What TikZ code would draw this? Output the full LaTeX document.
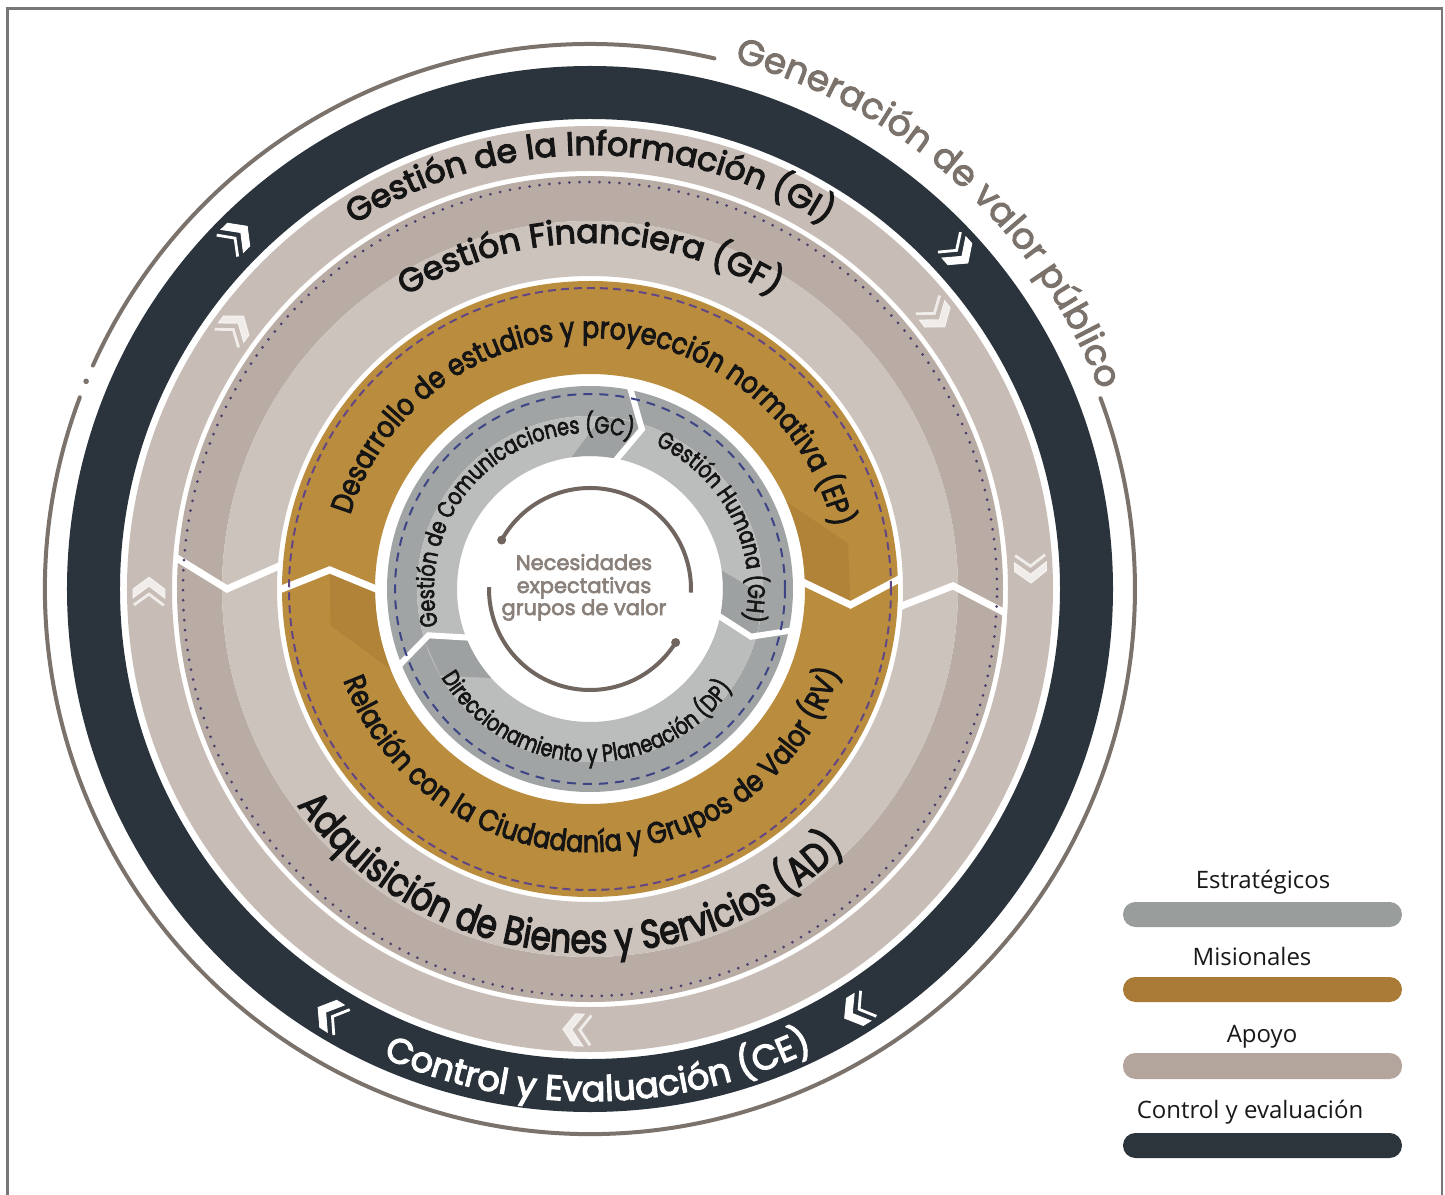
\documentclass[tikz,border=0pt]{standalone}
\usepackage{fontspec}
\setmainfont{Open Sans}
\newfontfamily\ringwide{Poppins}[FakeBold=3.4]
\newfontfamily\ringgen{Poppins}[FakeBold=2.6]
\newfontfamily\ringmid{Poppins}[FakeBold=3,FakeStretch=0.85]
\newfontfamily\ringad{Poppins}[FakeBold=3.2,FakeStretch=0.82]
\newfontfamily\ringsmall{Poppins}[FakeBold=2.6,FakeStretch=0.8]
\newfontfamily\centrefont{Poppins}[FakeBold=3]
\usetikzlibrary{decorations.text}

\definecolor{ceDark}{HTML}{2B343C}
\definecolor{giTaupe}{HTML}{C8BDB6}
\definecolor{gfDark}{HTML}{B8ACA4}
\definecolor{gfLight}{HTML}{CDC3BD}
\definecolor{goldBand}{HTML}{BA8C3D}
\definecolor{goldShade}{HTML}{B08339}
\definecolor{greyDark}{HTML}{A1A4A4}
\definecolor{greyLight}{HTML}{BBBCBC}
\definecolor{greyShade}{HTML}{9EA1A1}
\definecolor{outline}{HTML}{7B726C}
\definecolor{dotPurple}{HTML}{4E3C6C}
\definecolor{dashPurple}{HTML}{634785}
\definecolor{dashNavy}{HTML}{3D4486}
\definecolor{centreText}{HTML}{8A807A}
\definecolor{centreLine}{HTML}{70665F}
\definecolor{ink}{HTML}{151515}
\definecolor{legGrey}{HTML}{999D9B}
\definecolor{legGold}{HTML}{A97B36}
\definecolor{legTaupe}{HTML}{B4A59C}
\definecolor{legDark}{HTML}{2C343C}
\definecolor{frameGrey}{HTML}{777777}

% fonts for the curved labels
\newcommand\fGen{\ringgen\fontsize{18pt}{20pt}\selectfont\color{outline}}
\newcommand\fBig{\ringwide\fontsize{16.5pt}{18pt}\selectfont\color{ink}}
\newcommand\fCE{\ringwide\fontsize{17.5pt}{19pt}\selectfont\color{white}}
\newcommand\fAD{\ringad\fontsize{20pt}{22pt}\selectfont\color{ink}}
\newcommand\fMis{\ringmid\fontsize{15pt}{17pt}\selectfont\color{ink}}
\newcommand\fEst{\ringsmall\fontsize{12pt}{14pt}\selectfont\color{ink}}
\newcommand\fLegend{\fontsize{12pt}{14pt}\selectfont}

% text set along an arc: format, start angle, end angle, radius, text
\newcommand\arclabel[5]{%
  \path[decorate, decoration={text along path, text align=center, text={|#1|#5}}]
    (#2:#4) arc[start angle=#2, end angle=#3, radius=#4];}

% double chevron pointing clockwise: angle, radius, style
\newcommand\chev[3]{%
  \begin{scope}[shift={(#1:#2)}, rotate=#1-90]
    \fill[#3] (8,0) -- (-4,16) -- (-13,16) -- (-1,0) -- (-13,-16) -- (-4,-16) -- cycle;
    \draw[#3, line width=1.4pt, line join=miter, fill=none] (-20,15) -- (-9,0) -- (-20,-15);
  \end{scope}}

\tikzset{
  split/.style={white, line width=3.5pt, line join=miter},
  splitthin/.style={white, line width=3pt, line join=miter},
  chevDark/.style={fill=white, draw=white},
  chevLight/.style={fill=white, draw=white, opacity=0.72},
  outerline/.style={outline, line width=2pt, line cap=round},
  centreArc/.style={centreLine, line width=2pt},
  legendbar/.style={rounded corners=6.2pt},
  legendlabel/.style={anchor=base, font=\fLegend, text=black!90},
}

\begin{document}
\begin{tikzpicture}[x=0.5pt, y=0.5pt]
\useasboundingbox (-590,589) rectangle (855,-605);
\fill[white] (-590,589) rectangle (855,-605);

% frame
\draw[frameGrey, line width=1.3pt] (-582.5,580.5) rectangle (852,-625);

% outer thin line with the gap for the title
\draw[outerline] (76.8:545) arc[start angle=76.8, end angle=155.8, radius=545];
\fill[outline] (157.6:545) circle[radius=2.8];
\draw[outerline] (159.4:545) arc[start angle=159.4, end angle=380.5, radius=545];

% rings
\fill[ceDark, even odd rule] (0,0) circle[radius=523] (0,0) circle[radius=470];
\fill[giTaupe, even odd rule] (0,0) circle[radius=463] (0,0) circle[radius=418];
\fill[gfDark, even odd rule] (0,0) circle[radius=413] (0,0) circle[radius=368];
\fill[gfLight, even odd rule] (0,0) circle[radius=368] (0,0) circle[radius=313];
\fill[goldBand, even odd rule] (0,0) circle[radius=308] (0,0) circle[radius=215];
\fill[greyDark, even odd rule] (0,0) circle[radius=203] (0,0) circle[radius=173];
\fill[greyLight, even odd rule] (0,0) circle[radius=173] (0,0) circle[radius=133];

% folds shading the inner side of each arrow head
\fill[goldShade] (-3.5:261) -- (2:215) arc[start angle=2, end angle=24, radius=215] -- (10:262) -- cycle;
\fill[goldShade] (175.8:261) -- (180.2:215) arc[start angle=180.2, end angle=202, radius=215] -- (188:262) -- cycle;
\fill[greyShade] (72:168) -- (79:133) arc[start angle=79, end angle=98, radius=133] -- (86:173) -- (74:173) -- cycle;
\fill[greyShade] (-16.5:168) -- (-11.5:133) arc[start angle=-11.5, end angle=8, radius=133] -- (-2:173) -- (-14:173) -- cycle;
\fill[greyShade] (196:168) -- (202:133) arc[start angle=202, end angle=222, radius=133] -- (210:173) -- (198:173) -- cycle;

% segment boundaries
\draw[split] (175.6:416) -- (180:363) -- (175.6:310);
\draw[split] (-3.3:416) -- (0.5:363) -- (-3.3:310);
\draw[split] (2:311) -- (-3.5:261) -- (2:212);
\draw[split] (180.2:311) -- (175.8:261) -- (180.2:212);
\draw[splitthin] (79:207) -- (72:168) -- (79:130);
\draw[splitthin] (-11.5:207) -- (-16.5:168) -- (-11.5:130);
\draw[splitthin] (202:207) -- (196:168) -- (202:130);

% dotted and dashed guide circles
\draw[dotPurple, line width=1.5pt, line cap=round, dash pattern=on 0pt off 5pt] (0,0) circle[radius=407];
\draw[dashPurple, line width=1pt, dash pattern=on 4pt off 2.5pt] (0,0) circle[radius=301];
\draw[dashNavy, line width=1pt, dash pattern=on 4.5pt off 3.5pt] (0,0) circle[radius=195];

% chevrons
\chev{134.3}{499}{chevDark}
\chev{41.7}{499}{chevDark}
\chev{301.6}{499}{chevDark}
\chev{237.9}{499}{chevDark}
\chev{142.8}{441}{chevLight}
\chev{37.5}{441}{chevLight}
\chev{1.8}{441}{chevLight}
\chev{179.5}{441}{chevLight}
\chev{267.5}{441}{chevLight}

% curved labels
\arclabel{\fGen}{123}{-27}{547}{Generación de valor público}
\arclabel{\fBig}{165}{15}{434}{Gestión de la Información (GI)}
\arclabel{\fBig}{165}{15}{346}{Gestión Financiera (GF)}
\arclabel{\fMis}{168.5}{8.5}{251}{Desarrollo de estudios y proyección normativa (EP)}
\arclabel{\fEst}{209}{59}{156}{Gestión de Comunicaciones (GC)}
\arclabel{\fEst}{102}{-48}{158}{Gestión Humana (GH)}
\arclabel{\fCE}{196}{346}{512}{Control y Evaluación (CE)}
\arclabel{\fAD}{185.4}{345.4}{364}{Adquisición de Bienes y Servicios (AD)}
\arclabel{\fMis}{191}{351}{263}{Relación con la Ciudadanía y Grupos de Valor (RV)}
\arclabel{\fEst}{193}{343}{173}{Direccionamiento y Planeación (DP)}

% centre
\draw[centreArc] (151:101) arc[start angle=151, end angle=-2, radius=101];
\draw[centreArc] (179:101) arc[start angle=179, end angle=328, radius=101];
\fill[centreLine] (151:101) circle[radius=4.5];
\fill[centreLine] (328:101) circle[radius=4.5];
\node[anchor=base, font=\centrefont\fontsize{10.5pt}{12pt}\selectfont, text=centreText] (c1) at (-6,19) {Necesidades};
\node[anchor=base, font=\centrefont\fontsize{10.5pt}{12pt}\selectfont, text=centreText] (c2) at (-6,-4) {expectativas};
\node[anchor=base, font=\centrefont\fontsize{10.5pt}{12pt}\selectfont, text=centreText] (c3) at (-6,-26) {grupos de valor};

% legend
\node[legendlabel] (l1) at (673,-299) {Estratégicos};
\fill[legGrey, legendbar] (533,-313) rectangle (812,-338);
\node[legendlabel] (l2) at (662,-376) {Misionales};
\fill[legGold, legendbar] (533,-388) rectangle (812,-413);
\node[legendlabel] (l3) at (672,-453) {Apoyo};
\fill[legTaupe, legendbar] (533,-464) rectangle (812,-490);
\node[legendlabel] (l4) at (660,-529) {Control y evaluación};
\fill[legDark, legendbar] (533,-544) rectangle (812,-569);
\end{tikzpicture}
\end{document}
